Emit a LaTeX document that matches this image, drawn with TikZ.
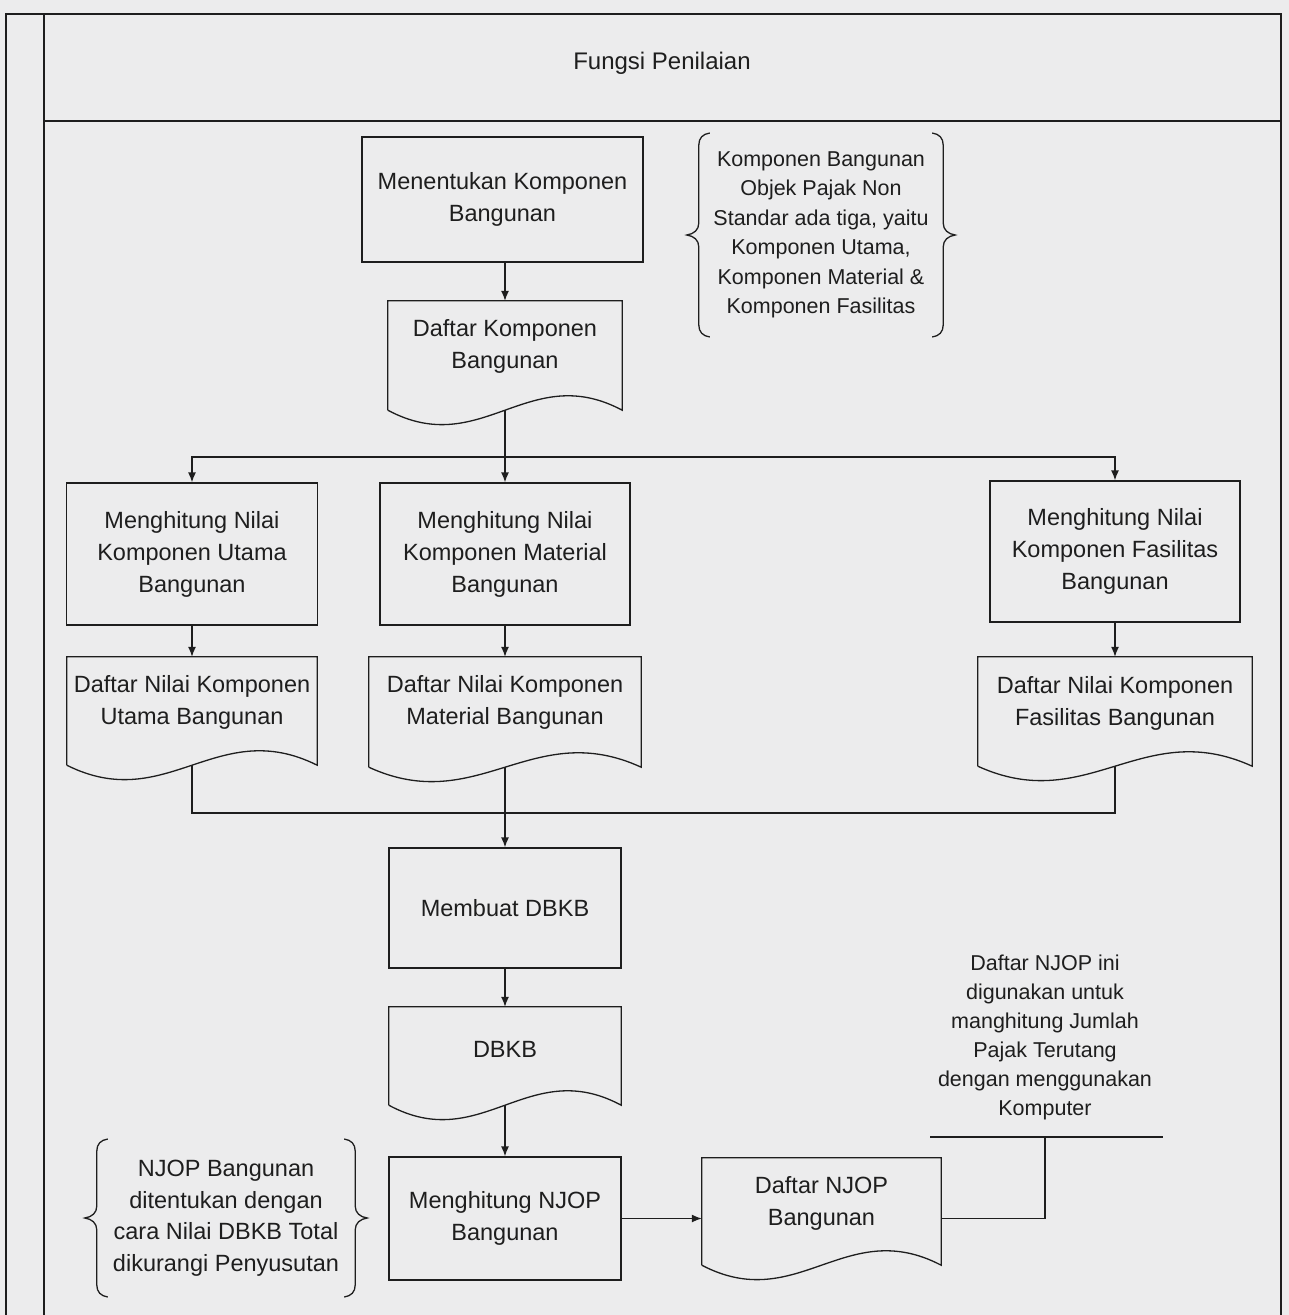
\documentclass[tikz,border=0pt]{standalone}
\usepackage{fontspec}
\setmainfont{Liberation Sans}
\usetikzlibrary{arrows.meta,calc}
\definecolor{paper}{RGB}{236,236,237}
\definecolor{ink}{RGB}{30,30,30}
\tikzset{
  frame/.style={draw=ink, line width=2.2pt},
  ln/.style={draw=ink, line width=1.3pt},
  arr/.style={ln, -{Latex[length=10pt,width=8pt]}},
  bigfont/.style={font=\fontsize{23.5}{32}\selectfont},
  smallfont/.style={font=\fontsize{21.5}{29.5}\selectfont},
  proc/.style={draw=ink, line width=1.3pt, inner sep=0pt, align=center, text=ink, bigfont},
  doc/.style={inner sep=0pt, align=center, text=ink, bigfont},
  note/.style={inner sep=0pt, align=center, text=ink},
}
\newcommand{\docshape}[1]{%
  \draw[ln] (#1.south west) -- (#1.north west) -- (#1.north east) -- (#1.south east)
    .. controls ($(#1.south east)!0.4!(#1.south west)+(0,-50)$) and ($(#1.south west)!0.4!(#1.south east)+(0,50)$) .. (#1.south west);}
\newcommand{\curlypath}[1]{(23,{-#1}) .. controls (16,{-#1+1}) and (12,{-#1+5}) .. (12,{-#1+12}) -- (12,-12) .. controls (12,-5) and (7,-1) .. (0,0) .. controls (7,1) and (12,5) .. (12,12) -- (12,{#1-12}) .. controls (12,{#1-5}) and (16,{#1-1}) .. (23,{#1})}
\newcommand{\bracesaround}[2]{%
  \draw[ln,shift={(#1.west)}] \curlypath{#2};
  \draw[ln,shift={(#1.east)},xscale=-1] \curlypath{#2};}
\begin{document}
\begin{tikzpicture}[x=1pt,y=-1pt]
\fill[paper] (0,0) rectangle (1289,1315);
\useasboundingbox (0,0) rectangle (1289,1315);
% frame
\draw[frame] (6,1315) -- (6,14) -- (1281,14) -- (1281,1315);
\draw[frame] (44,14) -- (44,1315);
\draw[frame] (44,121) -- (1281,121);
\node[note, font=\fontsize{24}{30}\selectfont] (title) at (662,63) {Fungsi Penilaian};

% top part
\node[proc, minimum width=281pt, minimum height=125pt] (b1) at (502.5,199.5) {Menentukan Komponen\\Bangunan};
\node[note, smallfont, minimum width=268pt, minimum height=204pt] (n1) at (821,235)
  {Komponen Bangunan\\Objek Pajak Non\\Standar ada tiga, yaitu\\Komponen Utama,\\Komponen Material \&\\Komponen Fasilitas};
\bracesaround{n1}{102}
\node[doc, minimum width=234pt, minimum height=109pt, text depth=24pt] (dk) at (505,355.5) {Daftar Komponen\\Bangunan};
\docshape{dk}

% row of three
\node[proc, minimum width=251pt, minimum height=142pt] (bu) at (192,554) {Menghitung Nilai\\Komponen Utama\\Bangunan};
\node[proc, minimum width=250pt, minimum height=142pt] (bm) at (505,554) {Menghitung Nilai\\Komponen Material\\Bangunan};
\node[proc, minimum width=250pt, minimum height=141pt] (bf) at (1115,551.5) {Menghitung Nilai\\Komponen Fasilitas\\Bangunan};

\node[doc, minimum width=250pt, minimum height=108pt, text depth=22pt] (du) at (192,711) {Daftar Nilai Komponen\\Utama Bangunan};
\node[doc, minimum width=272pt, minimum height=110pt, text depth=24pt] (dm) at (505,712) {Daftar Nilai Komponen\\Material Bangunan};
\node[doc, minimum width=274pt, minimum height=109pt, text depth=22pt] (df) at (1115,711.5) {Daftar Nilai Komponen\\Fasilitas Bangunan};
\docshape{du}
\docshape{dm}
\docshape{df}

% lower part
\node[proc, minimum width=232pt, minimum height=120pt] (bd) at (505,908) {Membuat DBKB};
\node[doc, minimum width=232pt, minimum height=98pt, text depth=14pt] (dd) at (505,1056) {DBKB};
\docshape{dd}
\node[proc, minimum width=232pt, minimum height=123pt] (bn) at (505,1218.5) {Menghitung NJOP\\Bangunan};
\node[doc, minimum width=239pt, minimum height=107pt, text depth=22pt] (dn) at (821.5,1211.5) {Daftar NJOP\\Bangunan};
\docshape{dn}

\node[note, bigfont, font=\fontsize{23.5}{31.5}\selectfont, minimum width=282pt, minimum height=158pt] (n3) at (226,1218)
  {NJOP Bangunan\\ditentukan dengan\\cara Nilai DBKB Total\\dikurangi Penyusutan};
\bracesaround{n3}{79}

\node[note, smallfont, font=\fontsize{21.5}{29}\selectfont] (n2) at (1045,1037)
  {Daftar NJOP ini\\digunakan untuk\\manghitung Jumlah\\Pajak Terutang\\dengan menggunakan\\Komputer};
\coordinate (anL) at (930,1137);
\coordinate (anR) at (1163,1137);
\coordinate (anM) at (1045,1137);
\draw[ln] (anL) -- (anR);

% connectors
\coordinate (br) at (505,457);
\coordinate (mg) at (505,813);
\draw[arr] (b1.south -| dk.north) -- (dk.north);
\draw[arr] (dk.south) -- (bm.north);
\draw[arr] (br) -| (bu.north);
\draw[arr] (br) -| (bf.north);
\draw[arr] (bu.south) -- (du.north);
\draw[arr] (bm.south) -- (dm.north);
\draw[arr] (bf.south) -- (df.north);
\draw[ln] (du.south) |- (mg);
\draw[ln] (df.south) |- (mg);
\draw[arr] (dm.south) -- (bd.north);
\draw[arr] (bd.south) -- (dd.north);
\draw[arr] (dd.south) -- (bn.north);
\draw[arr] (bn.east) -- (bn.east -| dn.west);
\draw[ln] (dn.east |- bn.east) -| (anM);
\end{tikzpicture}
\end{document}
